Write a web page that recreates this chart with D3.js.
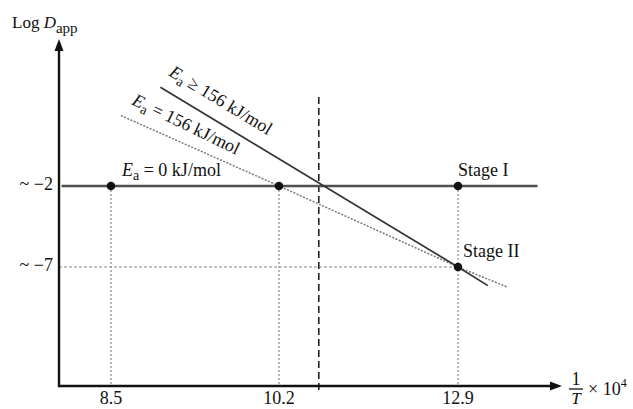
<!DOCTYPE html>
<html>
<head>
<meta charset="utf-8">
<script src="https://cdn.jsdelivr.net/npm/d3@7"></script>
<style>
  body { margin: 0; background: #fff; }
  svg text { font-family: "Liberation Serif", "DejaVu Serif", serif; fill: #111; }
</style>
</head>
<body>
<div id="chart"></div>
<script>
// schematic values
const xTicks = [8.5, 10.2, 12.9];
const yTicks = [-2, -7];
const yTickLabels = ['~ \u22122', '~ \u22127'];
const transitionX = 10.8;            // dashed vertical line
const stageI = {x: 12.9, y: -2};
const stageII = {x: 12.9, y: -7};
const flatPoints = [{x: 8.5, y: -2}, {x: 10.2, y: -2}, {x: 12.9, y: -2}];
const flatLine = [{x: 8.0, y: -2}, {x: 14.1, y: -2}];
const steepLine = [{x: 9.0, y: 4.1}, {x: 12.9, y: -7}, {x: 13.35, y: -8.15}];
const mediumLine = [{x: 8.6, y: 2.35}, {x: 10.2, y: -2}, {x: 12.9, y: -7}, {x: 13.65, y: -8.25}];

const width = 633, height = 409;
const axisX0 = 59, axisY0 = 386, arrowX = 562, arrowY = 39;

const svg = d3.select('#chart').append('svg')
  .attr('width', width)
  .attr('height', height);

// the figure is not to scale, so the x scale is piecewise
const x = d3.scaleLinear().domain(xTicks).range([111, 279, 458]);
const y = d3.scaleLinear().domain([-7, -2]).range([267, 186]);

const line = d3.line().x(d => x(d.x)).y(d => y(d.y));

// dotted guide lines
svg.selectAll('.vguide')
  .data(flatPoints)
  .enter().append('line')
  .attr('x1', d => x(d.x)).attr('x2', d => x(d.x))
  .attr('y1', d => y(d.y)).attr('y2', axisY0)
  .attr('stroke', '#8a8a8a').attr('stroke-width', 1.2)
  .attr('stroke-dasharray', '2,2');

svg.append('line')
  .attr('x1', axisX0).attr('x2', x(stageII.x))
  .attr('y1', y(stageII.y)).attr('y2', y(stageII.y))
  .attr('stroke', '#8a8a8a').attr('stroke-width', 1.2)
  .attr('stroke-dasharray', '3,2');

// dashed transition line
svg.append('line')
  .attr('x1', x(transitionX)).attr('x2', x(transitionX))
  .attr('y1', 97).attr('y2', 393)
  .attr('stroke', '#222').attr('stroke-width', 1.6)
  .attr('stroke-dasharray', '7,4');

// Ea = 0 line
svg.append('path')
  .attr('d', line(flatLine))
  .attr('fill', 'none').attr('stroke', '#505050').attr('stroke-width', 2.4);

// Ea = 156 (dotted)
svg.append('path')
  .attr('d', line(mediumLine))
  .attr('fill', 'none').attr('stroke', '#777').attr('stroke-width', 1.5)
  .attr('stroke-dasharray', '2,1.5');

// Ea >= 156 (solid)
svg.append('path')
  .attr('d', line(steepLine))
  .attr('fill', 'none').attr('stroke', '#333').attr('stroke-width', 1.7);

// dots
svg.selectAll('.dot')
  .data(flatPoints.concat([stageII]))
  .enter().append('circle')
  .attr('cx', d => x(d.x)).attr('cy', d => y(d.y))
  .attr('r', 4.3).attr('fill', '#111');

// axes with arrows
svg.append('line')
  .attr('x1', axisX0).attr('x2', arrowX - 8)
  .attr('y1', axisY0).attr('y2', axisY0)
  .attr('stroke', '#111').attr('stroke-width', 2.4);
svg.append('line')
  .attr('x1', axisX0).attr('x2', axisX0)
  .attr('y1', axisY0 + 1.2).attr('y2', arrowY + 9)
  .attr('stroke', '#111').attr('stroke-width', 2.4);
svg.append('path')
  .attr('d', `M${arrowX},${axisY0} L${arrowX - 12},${axisY0 - 4.5} L${arrowX - 12},${axisY0 + 4.5} Z`)
  .attr('fill', '#111');
svg.append('path')
  .attr('d', `M${axisX0},${arrowY} L${axisX0 - 4.5},${arrowY + 12} L${axisX0 + 4.5},${arrowY + 12} Z`)
  .attr('fill', '#111');

// tick labels
svg.selectAll('.xlab')
  .data(xTicks)
  .enter().append('text')
  .attr('x', d => x(d)).attr('y', 404)
  .attr('text-anchor', 'middle')
  .attr('font-size', 18)
  .text(d => d.toFixed(1));

svg.selectAll('.ylab')
  .data(yTicks)
  .enter().append('text')
  .attr('x', 53).attr('y', d => y(d) + 4)
  .attr('text-anchor', 'end')
  .attr('font-size', 18)
  .text((d, i) => yTickLabels[i]);

// axis titles
const ytitle = svg.append('text').attr('x', 12).attr('y', 28).attr('font-size', 17);
ytitle.append('tspan').text('Log ');
ytitle.append('tspan').attr('font-style', 'italic').text('D');
ytitle.append('tspan').attr('font-size', 15).attr('dy', 5).text('app');

svg.append('text').attr('x', 576).attr('y', 385).attr('text-anchor', 'middle')
  .attr('font-size', 18).text('1');
svg.append('line')
  .attr('x1', 569).attr('x2', 583).attr('y1', 389).attr('y2', 389)
  .attr('stroke', '#111').attr('stroke-width', 1.3);
svg.append('text').attr('x', 576).attr('y', 404).attr('text-anchor', 'middle')
  .attr('font-size', 17).attr('font-style', 'italic').text('T');
const xtitle = svg.append('text').attr('x', 588).attr('y', 395).attr('font-size', 18);
xtitle.append('tspan').text('\u00d7 10');
xtitle.append('tspan').attr('font-size', 12).attr('dy', -8).text('4');

// line labels
function eaLabel(g, rest) {
  const t = g.append('text').attr('font-size', 18);
  t.append('tspan').attr('font-style', 'italic').text('E');
  t.append('tspan').attr('font-size', 14).attr('dy', 4).text('a');
  t.append('tspan').attr('dy', -4).text(rest);
  return t;
}

const steepAngle = Math.atan2(y(steepLine[1].y) - y(steepLine[0].y), x(steepLine[1].x) - x(steepLine[0].x)) * 180 / Math.PI;
const mediumAngle = Math.atan2(y(mediumLine[2].y) - y(mediumLine[1].y), x(mediumLine[2].x) - x(mediumLine[1].x)) * 180 / Math.PI;

eaLabel(svg.append('g').attr('transform', `translate(168,75) rotate(${steepAngle})`), ' \u2265 156 kJ/mol');
eaLabel(svg.append('g').attr('transform', `translate(131,104) rotate(${mediumAngle + 1.5})`), ' = 156 kJ/mol');
eaLabel(svg.append('g').attr('transform', 'translate(122,176)'), ' = 0 kJ/mol');

svg.append('text').attr('x', x(stageI.x)).attr('y', y(stageI.y) - 10)
  .attr('font-size', 18).text('Stage I');
svg.append('text').attr('x', x(stageII.x) + 5).attr('y', y(stageII.y) - 10)
  .attr('font-size', 18).text('Stage II');
</script>
</body>
</html>
